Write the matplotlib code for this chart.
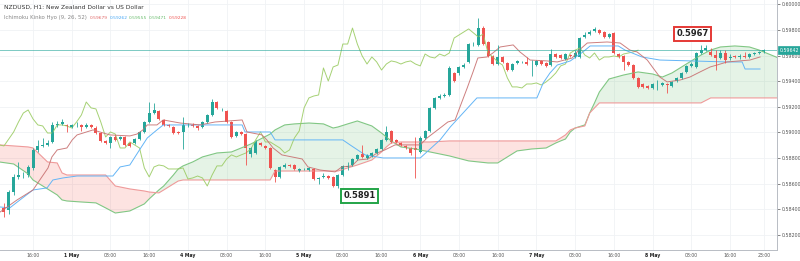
import numpy as np
import matplotlib
matplotlib.use("Agg")
import matplotlib.pyplot as plt
from matplotlib.transforms import blended_transform_factory

# hourly bars, index 0 = 30 Apr 16:00
bar_idx = np.arange(-6, 152)

opens = [
    .58410, .58394, .58534, .58652, .58667, .58667, .58722, .58863, .58894, .58902,
    .58925, .59058, .59066, .59058, .59042, .59058, .59058, .59042, .59058, .59034,
    .58995, .58933, .58917, .58964, .58948, .58964, .58917, .58917, .58948, .59003,
    .59081, .59151, .59167, .59097, .59058, .59042, .59003, .59003, .59058, .59058,
    .59050, .59042, .59081, .59136, .59237, .59183, .59167, .59081, .58972, .59003,
    .58987, .58831, .58839, .58917, .58894, .58878, .58706, .58652, .58730, .58745,
    .58745, .58698, .58714, .58706, .58714, .58636, .58652, .58659, .58652, .58581,
    .58667, .58730, .58745, .58792, .58831, .58800, .58816, .58839, .58870, .58941,
    .59011, .58941, .58917, .58894, .58878, .58878, .58847, .58956, .59011, .59191,
    .59269, .59284, .59292, .59464, .59464, .59511, .59550, .59690, .59683, .59815,
    .59706, .59597, .59534, .59589, .59542, .59487, .59542, .59550, .59550, .59550,
    .59526, .59558, .59542, .59526, .59612, .59604, .59573, .59604, .59589, .59589,
    .59745, .59768, .59792, .59800, .59784, .59745, .59776, .59612, .59597, .59550,
    .59526, .59425, .59378, .59362, .59347, .59378, .59370, .59378, .59362, .59401,
    .59425, .59472, .59519, .59511, .59620, .59643, .59628, .59604, .59581, .59620,
    .59581, .59597, .59589, .59597, .59589, .59612, .59620, .59628,
]
highs = [
    .58449, .58550, .58675, .58769, .58691, .58745, .58878, .58941, .58956, .58941,
    .59081, .59089, .59105, .59066, .59066, .59081, .59066, .59073, .59066, .59050,
    .59003, .58941, .58972, .58980, .58972, .58972, .58925, .58956, .59011, .59089,
    .59237, .59230, .59175, .59105, .59066, .59050, .59011, .59120, .59073, .59073,
    .59058, .59089, .59144, .59261, .59245, .59191, .59175, .59089, .59011, .59011,
    .58995, .58886, .58941, .58925, .58902, .58886, .58714, .58738, .58761, .58753,
    .58753, .58722, .58722, .58730, .58722, .58652, .58683, .58667, .58659, .58675,
    .58745, .58769, .58800, .58831, .58902, .58831, .58847, .58878, .58948, .59050,
    .59019, .58948, .58925, .58902, .58886, .58964, .58972, .59019, .59198, .59276,
    .59300, .59308, .59519, .59472, .59519, .59542, .59698, .59706, .59893, .59831,
    .59714, .59604, .59683, .59597, .59550, .59542, .59565, .59558, .59589, .59565,
    .59565, .59565, .59550, .59651, .59620, .59612, .59620, .59612, .59643, .59745,
    .59784, .59800, .59823, .59808, .59792, .59776, .59784, .59620, .59604, .59558,
    .59534, .59432, .59386, .59370, .59386, .59409, .59394, .59386, .59401, .59432,
    .59472, .59526, .59550, .59628, .59683, .59683, .59659, .59643, .59643, .59643,
    .59612, .59604, .59612, .59628, .59620, .59628, .59636, .59651,
]
lows = [
    .58339, .58363, .58511, .58636, .58644, .58652, .58706, .58847, .58886, .58894,
    .58917, .59042, .59058, .59003, .59034, .59042, .59011, .59034, .59034, .58987,
    .58925, .58909, .58878, .58933, .58941, .58894, .58886, .58909, .58941, .58995,
    .59073, .59144, .59097, .59050, .59042, .58987, .58987, .58870, .59042, .59042,
    .59019, .59034, .59073, .59128, .59183, .59167, .59073, .58956, .58964, .58980,
    .58745, .58808, .58831, .58894, .58870, .58714, .58613, .58644, .58722, .58730,
    .58706, .58691, .58706, .58698, .58628, .58597, .58644, .58636, .58574, .58566,
    .58659, .58706, .58738, .58784, .58800, .58792, .58808, .58831, .58863, .58933,
    .58917, .58917, .58894, .58870, .58824, .58644, .58839, .58948, .59003, .59183,
    .59261, .59276, .59284, .59394, .59448, .59503, .59542, .59675, .59675, .59683,
    .59589, .59526, .59526, .59542, .59480, .59480, .59534, .59542, .59526, .59440,
    .59519, .59526, .59511, .59519, .59581, .59573, .59565, .59589, .59581, .59581,
    .59737, .59761, .59784, .59768, .59737, .59737, .59612, .59581, .59487, .59519,
    .59417, .59347, .59347, .59339, .59339, .59331, .59362, .59308, .59355, .59394,
    .59417, .59464, .59511, .59503, .59612, .59636, .59597, .59487, .59573, .59542,
    .59565, .59581, .59573, .59581, .59581, .59604, .59612, .59620,
]
closes = [
    .58378, .58534, .58652, .58667, .58667, .58730, .58863, .58894, .58902, .58917,
    .59058, .59066, .59081, .59050, .59058, .59058, .59042, .59058, .59042, .58995,
    .58933, .58917, .58964, .58941, .58964, .58902, .58894, .58948, .59003, .59081,
    .59151, .59175, .59105, .59058, .59050, .58995, .58995, .59058, .59058, .59050,
    .59034, .59081, .59136, .59237, .59191, .59183, .59081, .58964, .59003, .58987,
    .58878, .58878, .58925, .58902, .58878, .58722, .58652, .58730, .58745, .58738,
    .58714, .58714, .58714, .58722, .58636, .58644, .58659, .58644, .58581, .58667,
    .58738, .58738, .58792, .58824, .58808, .58824, .58839, .58870, .58941, .59003,
    .58925, .58925, .58902, .58878, .58839, .58863, .58956, .59011, .59191, .59269,
    .59284, .59292, .59503, .59401, .59511, .59526, .59690, .59690, .59815, .59690,
    .59597, .59534, .59589, .59550, .59487, .59534, .59558, .59550, .59534, .59550,
    .59558, .59534, .59519, .59612, .59589, .59581, .59612, .59597, .59620, .59737,
    .59761, .59784, .59808, .59776, .59745, .59768, .59620, .59589, .59550, .59526,
    .59425, .59355, .59355, .59347, .59378, .59378, .59386, .59370, .59394, .59425,
    .59464, .59519, .59534, .59620, .59643, .59659, .59604, .59581, .59620, .59565,
    .59589, .59589, .59597, .59589, .59612, .59620, .59628, .59642,
]

# leading spans (cloud), read on a shared bar grid
cloud_idx = [-7, -4, -1, 0, 3, 5, 6, 7, 10, 13, 15, 17, 20, 23, 24, 26, 27, 29, 30, 31,
             33, 35, 38, 41, 45, 49, 50, 52, 54, 57, 60, 62, 63, 65, 67, 70, 72, 73, 74, 76,
             79, 82, 86, 90, 94, 96, 98, 100, 103, 106, 108, 109, 110, 111, 112, 114, 115,
             116, 117, 119, 122, 125, 128, 130, 132, 134, 136, 138, 140, 142, 145, 148,
             150, 152, 154]
span_a = [.58769, .58753, .58675, .58628, .58558, .58511, .58472, .58464, .58456, .58449,
          .58410, .58370, .58386, .58441, .58480, .58550, .58581, .58667, .58714, .58738,
          .58769, .58808, .58839, .58847, .58909, .58987, .59019, .59058, .59066, .59073,
          .59066, .59034, .59042, .59066, .59089, .59050, .58995, .58964, .58933, .58886,
          .58870, .58847, .58816, .58777, .58761, .58761, .58808, .58855, .58870, .58878,
          .58917, .58933, .58948, .59003, .59034, .59058, .59151, .59230, .59315, .59417,
          .59448, .59472, .59456, .59432, .59464, .59511, .59558, .59604, .59643, .59667,
          .59675, .59667, .59643, .59612, .59581]
span_b = [.58902, .58894, .58886, .58878, .58769, .58761, .58683, .58667, .58667, .58667,
          .58667, .58581, .58558, .58542, .58534, .58527, .58550, .58597, .58620, .58628,
          .58628, .58628, .58628, .58628, .58628, .58628, .58698, .58698, .58698, .58698,
          .58698, .58698, .58698, .58722, .58745, .58784, .58847, .58886, .58917, .58925,
          .58925, .58925, .58933, .58933, .58933, .58933, .58933, .58933, .58933, .58933,
          .58933, .58956, .58980, .59019, .59034, .59050, .59151, .59191, .59230, .59230,
          .59230, .59230, .59230, .59230, .59230, .59230, .59230, .59230, .59269, .59269,
          .59269, .59269, .59269, .59269, .59269]

kijun_idx = [-6.8, -4.8, -2.7, 0, 2.9, 4.1, 6.2, 9.1, 16.5, 18, 20, 22, 23.6, 25.6, 26.9,
             43.2, 43.8, 49, 50, 64, 65.5, 68.6, 72.3, 80, 84.1, 86.2, 91.7, 104.1, 105.4,
             106.8, 108.3, 111, 113.6, 115.1, 120.9, 122.3, 125.8, 129.5, 143.4, 146.5,
             147.1, 150.2]
kijun = [.58417, .58410, .58472, .58550, .58566, .58628, .58644, .58659, .58659, .58730,
         .58745, .58863, .58956, .59019, .59058, .59058, .59003, .59003, .58941, .58941,
         .58902, .58824, .58800, .58800, .58941, .59042, .59269, .59269, .59386, .59464,
         .59526, .59558, .59628, .59675, .59675, .59643, .59589, .59565, .59550, .59550,
         .59495, .59495]

tenkan_idx = [-6.8, -3.3, 0, 1.4, 3.1, 3.9, 5, 7, 8.1, 9.1, 12.4, 13.8, 15.9, 20, 21.5,
              22.7, 23.6, 25.6, 26.9, 30.4, 34.5, 37.6, 43.2, 44.2, 47.3, 48.3, 49.6, 51.4,
              55.6, 56.8, 59.3, 62.4, 63.8, 65.9, 67.1, 69.2, 71.1, 72.7, 74.8, 80, 81.4,
              84.1, 85.7, 87.2, 88.2, 89.7, 90.9, 91.9, 93.8, 95, 96.5, 99.2, 100.6, 102.7,
              106.2, 108.3, 111.4, 112.4, 114.5, 118.6, 121.3, 123.3, 124.8, 126.9, 128.1,
              129.5, 131, 133.7, 135.7, 137.8, 139.9, 141.3, 143.4, 148.1, 150.2]
tenkan = [.58378, .58472, .58550, .58628, .58722, .58808, .58863, .58878, .58941, .58980,
          .59019, .59003, .58980, .58972, .58987, .59019, .59058, .59058, .59097, .59073,
          .59058, .59081, .59097, .59003, .58980, .58941, .58878, .58824, .58792, .58730,
          .58706, .58691, .58730, .58738, .58784, .58792, .58839, .58863, .58902, .58902,
          .58956, .59034, .59081, .59097, .59198, .59347, .59472, .59581, .59589, .59620,
          .59667, .59683, .59628, .59565, .59558, .59550, .59581, .59628, .59698, .59706,
          .59698, .59643, .59628, .59565, .59503, .59432, .59394, .59409, .59432, .59472,
          .59511, .59526, .59550, .59565, .59589]

lag = 26
last_price = 0.59642

tick_idx = [0, 8, 16, 24, 32, 40, 48, 56, 64, 72, 80, 88, 96, 104, 112, 120, 128, 136, 144, 151]
tick_lbl = ["16:00", "1 May", "08:00", "16:00", "4 May", "08:00", "16:00", "5 May", "08:00",
            "16:00", "6 May", "08:00", "16:00", "7 May", "08:00", "16:00", "8 May", "08:00",
            "16:00", "23:00"]
price_ticks = [0.582, 0.584, 0.586, 0.588, 0.590, 0.592, 0.594, 0.596, 0.598, 0.600]

UP = "#26a69a"
DOWN = "#ef5350"

fig = plt.figure(figsize=(8, 2.61), dpi=100)
ax = fig.add_axes([0, 11 / 261, 777 / 800, 250 / 261])

o = np.array(opens)
h = np.array(highs)
l = np.array(lows)
c = np.array(closes)
cols = np.where(c >= o, UP, DOWN)

# cloud
ca = np.array(span_a)
cb = np.array(span_b)
ax.fill_between(cloud_idx, ca, cb, where=ca >= cb, interpolate=True, color="#4caf50", alpha=0.14, lw=0)
ax.fill_between(cloud_idx, ca, cb, where=ca < cb, interpolate=True, color="#f44336", alpha=0.15, lw=0)
ax.plot(cloud_idx, ca, color="#81c784", lw=0.8)
ax.plot(cloud_idx, cb, color="#ef9a9a", lw=0.8)

ax.plot(bar_idx - lag, c, color="#9ccc65", lw=0.7, alpha=0.9)
ax.plot(kijun_idx, kijun, color="#64b5f6", lw=0.7)
ax.plot(tenkan_idx, tenkan, color="#c87171", lw=0.7, alpha=0.9)

ax.axhline(last_price, color=UP, lw=0.7, alpha=0.6)

ax.vlines(bar_idx, l, h, colors=cols, lw=0.6)
body = np.maximum(np.abs(c - o), 0.000012)
ax.bar(bar_idx, body, bottom=np.minimum(o, c), width=0.62, color=cols, lw=0)

ax.set_xlim(-6.82, 153.7)
ax.set_ylim(0.58081, 0.60034)

ax.set_xticks(tick_idx)
ax.set_xticklabels(tick_lbl)
ax.set_yticks(price_ticks)
ax.set_yticklabels(["%.5f" % p for p in price_ticks])
ax.yaxis.tick_right()
ax.tick_params(axis="y", labelsize=3.4, colors="#555555", length=2, width=0.5, pad=1.5)
ax.tick_params(axis="x", labelsize=3.3, colors="#555555", length=0, pad=2.5)
for t in ax.get_xticklabels():
    if "May" in t.get_text():
        t.set_fontweight("bold")
        t.set_color("#222222")

ax.grid(True, color="#f0f2f5", lw=0.6)
ax.set_axisbelow(True)
for s in ("left", "top"):
    ax.spines[s].set_visible(False)
for s in ("right", "bottom"):
    ax.spines[s].set_color("#b8bcc4")
    ax.spines[s].set_linewidth(0.7)

# last price tag on the right scale
trans = blended_transform_factory(ax.transAxes, ax.transData)
ax.text(1.003, last_price, "0.59642", transform=trans, fontsize=3.4, color="white",
        va="center", ha="left",
        bbox=dict(boxstyle="square,pad=0.35", fc=UP, ec=UP, lw=0.5))

# header
fig.text(4 / 800, 1 - 7 / 261, "NZDUSD, H1: New Zealand Dollar vs US Dollar", fontsize=4.3,
         color="#333333", va="center")
fig.text(4 / 800, 1 - 18 / 261, "Ichimoku Kinko Hyo (9, 26, 52)", fontsize=3.9,
         color="#888888", va="center")
legend_vals = ["0.59679", "0.59262", "0.59555", "0.59471", "0.59228"]
legend_cols = ["#e06666", "#42a5f5", "#66bb6a", "#66bb6a", "#ef5350"]
for k, (v, col) in enumerate(zip(legend_vals, legend_cols)):
    fig.text((90 + 19.6 * k) / 800, 1 - 18 / 261, v, fontsize=3.2, color=col, va="center")

# callouts
ax.text(0.463, 0.216, "0.5891", transform=ax.transAxes, fontsize=6, fontweight="bold",
        color="#222222", ha="center", va="center",
        bbox=dict(boxstyle="square,pad=0.3", fc="white", ec="#22a447", lw=1.4))
ax.text(0.891, 0.864, "0.5967", transform=ax.transAxes, fontsize=6, fontweight="bold",
        color="#222222", ha="center", va="center",
        bbox=dict(boxstyle="square,pad=0.3", fc="white", ec="#e53935", lw=1.4))

fig.savefig("out.png", dpi=100)
